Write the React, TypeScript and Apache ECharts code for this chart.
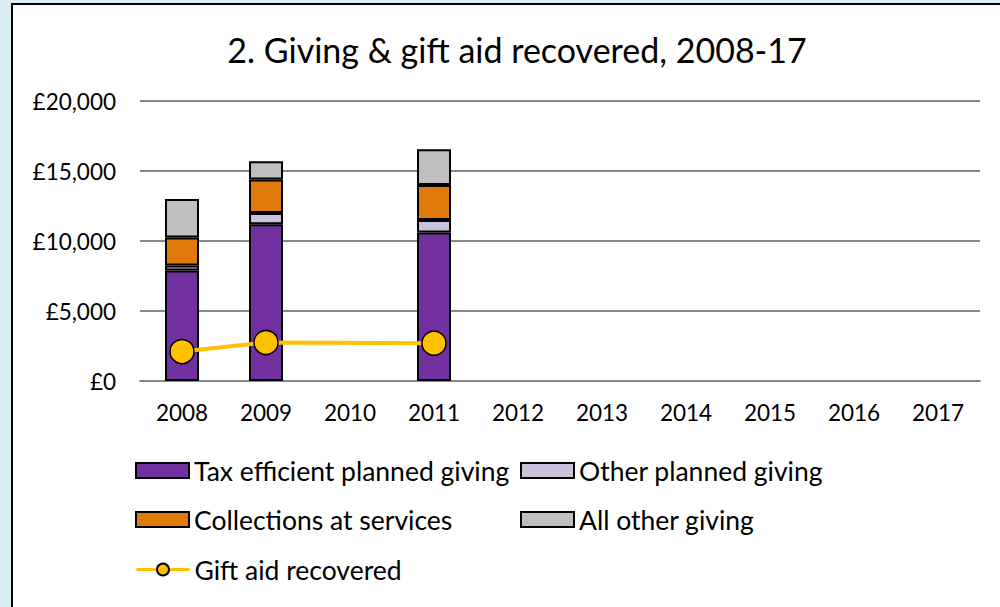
import React, { useEffect, useRef } from "react";
import * as echarts from "echarts";

const years = ["2008", "2009", "2010", "2011", "2012", "2013", "2014", "2015", "2016", "2017"];
const taxEfficient = [7900, 11200, null, 10600, null, null, null, null, null, null];
const otherPlanned = [350, 800, null, 900, null, null, null, null, null, null];
const collections = [2000, 2400, null, 2500, null, null, null, null, null, null];
const allOther = [2750, 1300, null, 2550, null, null, null, null, null, null];
const giftAid = [2100, 2750, null, 2700, null, null, null, null, null, null];
const yTicks = [0, 5000, 10000, 15000, 20000];

const FONT = "Lato";

export default function App() {
  const ref = useRef<HTMLDivElement>(null);
  useEffect(() => {
    const chart = echarts.init(ref.current!, null, { renderer: "svg" });
    const barStyle = (color: string) => ({ color, borderColor: "#000", borderWidth: 2 });
    const legendText = { fontFamily: FONT, fontSize: 26.5, color: "#000" };
    const mkLegend = (name: string, left: number, top: number, icon?: string) => ({
      data: [icon ? { name, icon } : { name }],
      left,
      top,
      itemWidth: 53,
      itemHeight: 15,
      itemGap: 0,
      padding: 0,
      textStyle: legendText,
      lineStyle: { width: 3 },
      selectedMode: false,
    });
    chart.setOption({
      animation: false,
      backgroundColor: "#dbeef4",
      graphic: [
        {
          type: "rect",
          z: -10,
          shape: { x: 12, y: 4, width: 1000, height: 620 },
          style: { fill: "#fff", stroke: "#000", lineWidth: 2 },
        },
      ],
      title: {
        text: "2. Giving & gift aid recovered, 2008-17",
        left: 512,
        textAlign: "center",
        top: 27,
        textStyle: { fontFamily: FONT, fontSize: 34, fontWeight: "normal", color: "#000" },
      },
      legend: [
        mkLegend("Tax efficient planned giving", 135, 457, "rect"),
        mkLegend("Other planned giving", 520, 457, "rect"),
        mkLegend("Collections at services", 135, 506, "rect"),
        mkLegend("All other giving", 520, 506, "rect"),
        mkLegend("Gift aid recovered", 135, 556),
      ],
      grid: { left: 140, top: 101, width: 840, height: 280 },
      xAxis: {
        type: "category",
        data: years,
        axisLine: { show: true, lineStyle: { color: "#888", width: 2 } },
        axisTick: { show: false },
        axisLabel: { fontFamily: FONT, fontSize: 22.5, color: "#000", margin: 20 },
      },
      yAxis: {
        type: "value",
        min: yTicks[0],
        max: yTicks[yTicks.length - 1],
        interval: 5000,
        axisLine: { show: false },
        axisTick: { show: false },
        splitLine: { lineStyle: { color: "#888", width: 2 } },
        axisLabel: {
          fontFamily: FONT,
          fontSize: 22.5,
          color: "#000",
          margin: 24,
          formatter: (v: number) => "£" + v.toLocaleString("en-GB"),
        },
      },
      series: [
        { name: "Tax efficient planned giving", type: "bar", stack: "g", data: taxEfficient, barWidth: 34, itemStyle: barStyle("#7030a0") },
        { name: "Other planned giving", type: "bar", stack: "g", data: otherPlanned, barWidth: 34, itemStyle: barStyle("#ccc1da") },
        { name: "Collections at services", type: "bar", stack: "g", data: collections, barWidth: 34, itemStyle: barStyle("#e07b0b") },
        { name: "All other giving", type: "bar", stack: "g", data: allOther, barWidth: 34, itemStyle: barStyle("#bfbfbf") },
        {
          name: "Gift aid recovered",
          type: "line",
          data: giftAid,
          connectNulls: true,
          symbol: "circle",
          symbolSize: 24,
          z: 5,
          lineStyle: { color: "#ffc000", width: 4 },
          itemStyle: { color: "#ffc000", borderColor: "#000", borderWidth: 1.5 },
        },
      ],
    });
    return () => chart.dispose();
  }, []);
  return (
    <div style={{ position: "fixed", left: 0, top: 0, width: 1000, height: 607 }}>
      <div ref={ref} style={{ width: 1000, height: 607 }} />
    </div>
  );
}
